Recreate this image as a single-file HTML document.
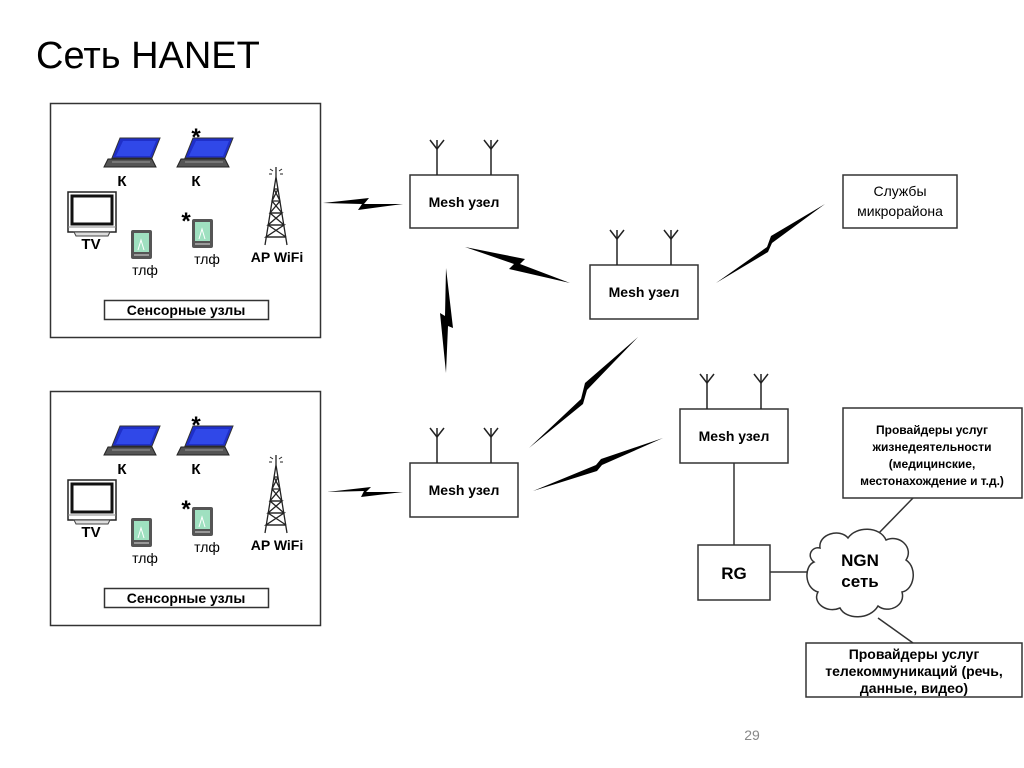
<!DOCTYPE html>
<html><head><meta charset="utf-8"><style>
html,body{margin:0;padding:0;background:#fff}
svg{display:block}
text{font-family:"Liberation Sans",sans-serif}
.b{font-weight:bold}
</style></head><body>
<svg width="1024" height="768" viewBox="0 0 1024 768" xmlns="http://www.w3.org/2000/svg">
<defs>
<g id="laptop">
  <polygon points="16,1 56,1 48,21 8,21" fill="#1f2fc8" stroke="#333" stroke-width="1"/>
  <polygon points="19,4 52,4 46,19 12,19" fill="#3048e8"/>
  <polygon points="4,22 48,22 52,30 0,30" fill="#555" stroke="#222" stroke-width="1"/>
  <line x1="8" y1="25" x2="46" y2="25" stroke="#999" stroke-width="1"/>
</g>
<g id="phone">
  <rect x="0" y="0" width="21" height="29" rx="2" fill="#555"/>
  <rect x="3" y="3" width="15" height="19" fill="#9fe0c0"/>
  <path d="M7,20 L10,10 L13,20" fill="none" stroke="#fff" stroke-width="1"/>
  <rect x="3" y="24" width="15" height="2" fill="#999"/>
</g>
<g id="tv">
  <rect x="0" y="0" width="48" height="40" fill="#fff" stroke="#222" stroke-width="1.5"/>
  <rect x="4" y="4" width="40" height="28" fill="#fff" stroke="#111" stroke-width="3"/>
  <line x1="0" y1="35" x2="48" y2="35" stroke="#888" stroke-width="1"/>
  <polygon points="6,40 42,40 40,44 8,44" fill="#ddd" stroke="#444" stroke-width="1"/>
</g>
<g id="tower" fill="none" stroke="#222" stroke-width="1.3">
  <path d="M14,12 L3,80 M14,12 L25,80"/>
  <path d="M12,24 L16,24 M10,36 L18,36 M8,48 L20,48 M6,60 L22,60 M4,72 L24,72"/>
  <path d="M12,24 L18,36 L8,48 L20,48 L6,60 L22,60 L4,72 L24,72 M16,24 L10,36 L20,48 M8,48 L22,60 M6,60 L24,72 M22,60 L4,72"/>
  <line x1="14" y1="2" x2="14" y2="12"/>
  <path d="M8,4 L11,6 M20,4 L17,6 M7,9 L10,9 M21,9 L18,9" stroke-width="1"/>
</g>
<g id="ant" fill="none" stroke="#222" stroke-width="1.5">
  <line x1="0" y1="0" x2="0" y2="35"/>
  <path d="M-7,0 L0,9 L7,0"/>
</g>
<g id="hanet">
  <rect x="50.5" y="103.5" width="270" height="234" fill="none" stroke="#333" stroke-width="1.5"/>
  <use href="#laptop" x="104" y="137"/>
  <use href="#laptop" x="177" y="137"/>
  <text x="122" y="186" font-size="15" class="b" text-anchor="middle">К</text>
  <text x="196" y="186" font-size="15" class="b" text-anchor="middle">К</text>
  <text x="196" y="145" font-size="24" class="b" text-anchor="middle">*</text>
  <text x="186" y="229" font-size="24" class="b" text-anchor="middle">*</text>
  <use href="#tv" x="68" y="192"/>
  <text x="91" y="249" font-size="15" class="b" text-anchor="middle">TV</text>
  <use href="#phone" x="131" y="230"/>
  <text x="145" y="275" font-size="14" text-anchor="middle">тлф</text>
  <use href="#phone" x="192" y="219"/>
  <text x="207" y="264" font-size="14" text-anchor="middle">тлф</text>
  <use href="#tower" x="262" y="165"/>
  <text x="277" y="262" font-size="14" class="b" text-anchor="middle">AP WiFi</text>
  <rect x="104.5" y="300.5" width="164" height="19" fill="#fff" stroke="#333" stroke-width="1.5"/>
  <text x="186" y="315" font-size="14" class="b" text-anchor="middle">Сенсорные узлы</text>
</g>
</defs>

<text x="36" y="68" font-size="38">Сеть HANET</text>

<use href="#hanet"/>
<use href="#hanet" y="288"/>

<g fill="#fff" stroke="#333" stroke-width="1.5">
  <rect x="410" y="175" width="108" height="53"/>
  <rect x="590" y="265" width="108" height="54"/>
  <rect x="410" y="463" width="108" height="54"/>
  <rect x="680" y="409" width="108" height="54"/>
  <rect x="843" y="175" width="114" height="53"/>
  <rect x="843" y="408" width="179" height="90"/>
  <rect x="698" y="545" width="72" height="55"/>
  <rect x="806" y="643" width="216" height="54"/>
</g>
<use href="#ant" x="437" y="140"/><use href="#ant" x="491" y="140"/>
<use href="#ant" x="617" y="230"/><use href="#ant" x="671" y="230"/>
<use href="#ant" x="437" y="428"/><use href="#ant" x="491" y="428"/>
<use href="#ant" x="707" y="374"/><use href="#ant" x="761" y="374"/>

<g font-size="14" class="b" text-anchor="middle">
  <text x="464" y="207" class="b">Mesh узел</text>
  <text x="644" y="297" class="b">Mesh узел</text>
  <text x="464" y="495" class="b">Mesh узел</text>
  <text x="734" y="441" class="b">Mesh узел</text>
  <text x="734" y="579" font-size="17" class="b">RG</text>
</g>
<g font-size="14" text-anchor="middle">
  <text x="900" y="196">Службы</text>
  <text x="900" y="216">микрорайона</text>
</g>
<g font-size="12" class="b" text-anchor="middle">
  <text x="932" y="434" class="b">Провайдеры услуг</text>
  <text x="932" y="451" class="b">жизнедеятельности</text>
  <text x="932" y="468" class="b">(медицинские,</text>
  <text x="932" y="485" class="b">местонахождение и т.д.)</text>
</g>
<g font-size="14" class="b" text-anchor="middle">
  <text x="914" y="659" class="b">Провайдеры услуг</text>
  <text x="914" y="676" class="b">телекоммуникаций (речь,</text>
  <text x="914" y="693" class="b">данные, видео)</text>
</g>

<g stroke="#333" stroke-width="1.5" fill="none">
  <line x1="734" y1="463" x2="734" y2="545"/>
  <line x1="770" y1="572" x2="808" y2="572"/>
  <line x1="876" y1="536" x2="913" y2="498"/>
  <line x1="878" y1="618" x2="913" y2="643"/>
</g>

<path d="M820,548 C818,534 840,528 848,538 C856,526 880,526 886,540 C900,534 914,548 906,560 C918,568 914,590 902,592 C906,606 888,614 878,606 C870,620 846,620 840,608 C826,614 812,602 818,592 C804,588 804,566 814,562 C806,556 812,546 820,548 Z" fill="#fff" stroke="#333" stroke-width="1.5"/>
<text x="860" y="566" font-size="17" class="b" text-anchor="middle">NGN</text>
<text x="860" y="587" font-size="17" class="b" text-anchor="middle">сеть</text>

<g fill="#000">
  <polygon points="323,203 369,198 364,204 403,204 358,210 362,204"/>
  <polygon points="465,247 525,259 520,264 570,283 509,269 514,264"/>
  <polygon points="446,268 453,328 448,326 446,373 440,313 445,316"/>
  <polygon points="716,283 767,247 771,236 825,204 772,243 768,252"/>
  <polygon points="529,448 581,399 585,383 638,337 587,390 583,404"/>
  <polygon points="533,491 596,465 601,459 663,438 602,465 597,471"/>
  <polygon points="327,492 371,487 366,492 403,492 361,497 364,491"/>
</g>

<text x="752" y="740" font-size="14" fill="#888" text-anchor="middle">29</text>
</svg>
</body></html>
